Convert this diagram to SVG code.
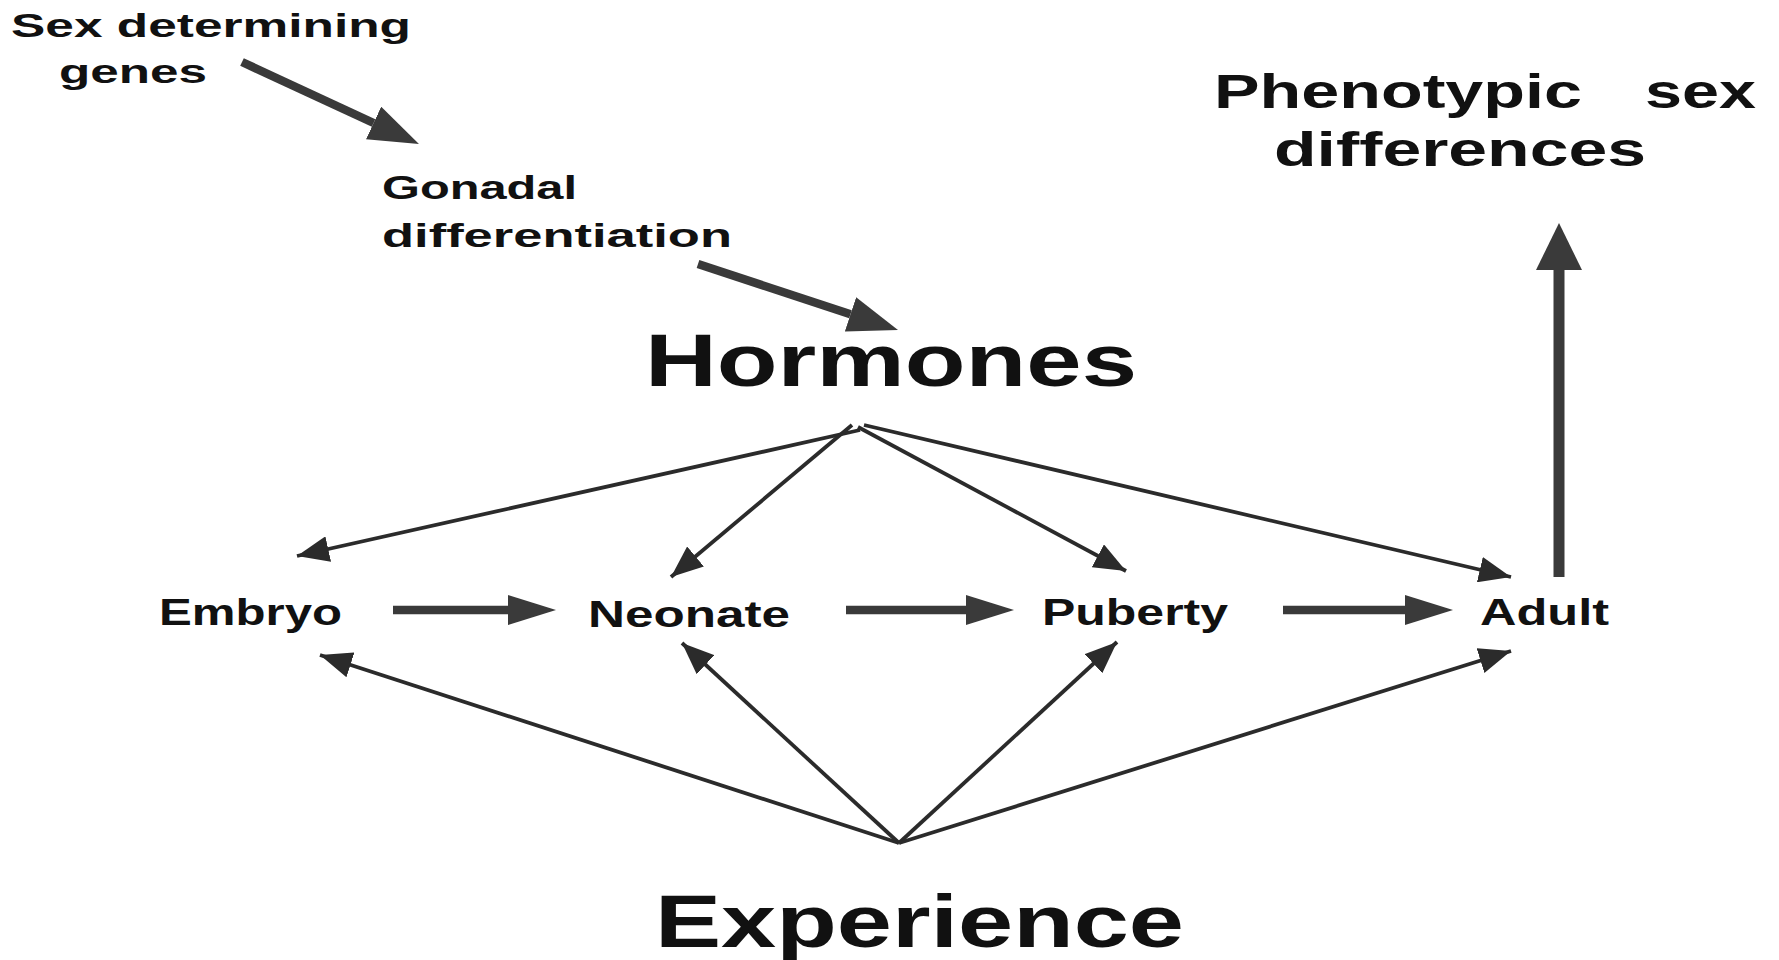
<svg xmlns="http://www.w3.org/2000/svg" width="1779" height="960" viewBox="0 0 1779 960">
<style>
text{font-family:"Liberation Sans",Arial,sans-serif;font-weight:bold;fill:#111}
.thin{stroke:#2b2b2b;stroke-width:3.8;fill:none;marker-end:url(#ht)}
.thick{stroke:#3a3a3a;stroke-width:8.5;fill:none}
</style>
<defs>
<marker id="ht" viewBox="0 0 32 26" refX="32" refY="13" markerWidth="32" markerHeight="26" markerUnits="userSpaceOnUse" orient="auto"><path d="M0,0 L32,13 L0,26 z" fill="#2b2b2b"/></marker>
<marker id="hh" viewBox="0 0 48 30" refX="0" refY="15" markerWidth="48" markerHeight="30" markerUnits="userSpaceOnUse" orient="auto"><path d="M0,0 L48,15 L0,30 z" fill="#3a3a3a"/></marker>
<marker id="hd" viewBox="0 0 50 36" refX="0" refY="18" markerWidth="50" markerHeight="36" markerUnits="userSpaceOnUse" orient="auto"><path d="M0,0 L50,18 L0,36 z" fill="#3a3a3a"/></marker>
<marker id="hv" viewBox="0 0 47 46" refX="0" refY="23" markerWidth="47" markerHeight="46" markerUnits="userSpaceOnUse" orient="auto"><path d="M0,0 L47,23 L0,46 z" fill="#3a3a3a"/></marker>
</defs>
<rect width="1779" height="960" fill="#fff"/>
<g id="connectors">
<line class="thick" x1="242" y1="62" x2="373.6" y2="123" marker-end="url(#hd)"/>
<line class="thick" x1="698" y1="264" x2="850.5" y2="314.3" marker-end="url(#hd)"/>
<line class="thick" x1="393" y1="610" x2="508" y2="610" marker-end="url(#hh)"/>
<line class="thick" x1="846" y1="610" x2="966" y2="610" marker-end="url(#hh)"/>
<line class="thick" x1="1283" y1="610" x2="1405" y2="610" marker-end="url(#hh)"/>
<line class="thick" style="stroke-width:11" x1="1559" y1="577" x2="1559" y2="270" marker-end="url(#hv)"/>
<line class="thin" x1="860" y1="430" x2="297" y2="556"/>
<line class="thin" x1="852" y1="425" x2="671" y2="577"/>
<line class="thin" x1="858" y1="427" x2="1126" y2="571"/>
<line class="thin" x1="864" y1="425" x2="1511" y2="577"/>
<line class="thin" x1="899" y1="843" x2="320" y2="655"/>
<line class="thin" x1="899" y1="843" x2="682" y2="643"/>
<line class="thin" x1="899" y1="843" x2="1117" y2="642"/>
<line class="thin" x1="899" y1="843" x2="1511" y2="651"/>
</g>
<g id="sex-genes">
<text x="11" y="37" font-size="34" textLength="400" lengthAdjust="spacingAndGlyphs">Sex determining</text>
<text x="59" y="83" font-size="34" textLength="148" lengthAdjust="spacingAndGlyphs">genes</text>
</g>
<g id="gonadal">
<text x="382" y="199" font-size="34" textLength="195" lengthAdjust="spacingAndGlyphs">Gonadal</text>
<text x="382" y="247" font-size="34" textLength="350" lengthAdjust="spacingAndGlyphs">differentiation</text>
</g>
<g id="hormones">
<text x="645" y="386" font-size="74" textLength="492" lengthAdjust="spacingAndGlyphs">Hormones</text>
</g>
<g id="phenotypic">
<text x="1214" y="108" font-size="49" textLength="368" lengthAdjust="spacingAndGlyphs">Phenotypic</text>
<text x="1645" y="108" font-size="49" textLength="111" lengthAdjust="spacingAndGlyphs">sex</text>
<text x="1274" y="166" font-size="49" textLength="372" lengthAdjust="spacingAndGlyphs">differences</text>
</g>
<g id="embryo"><text x="159" y="625" font-size="36" textLength="183" lengthAdjust="spacingAndGlyphs">Embryo</text></g>
<g id="neonate"><text x="588" y="627" font-size="36" textLength="202" lengthAdjust="spacingAndGlyphs">Neonate</text></g>
<g id="puberty"><text x="1042" y="625" font-size="36" textLength="186" lengthAdjust="spacingAndGlyphs">Puberty</text></g>
<g id="adult"><text x="1480" y="625" font-size="36" textLength="129" lengthAdjust="spacingAndGlyphs">Adult</text></g>
<g id="experience">
<text x="655" y="947" font-size="74" textLength="529" lengthAdjust="spacingAndGlyphs">Experience</text>
</g>
</svg>
